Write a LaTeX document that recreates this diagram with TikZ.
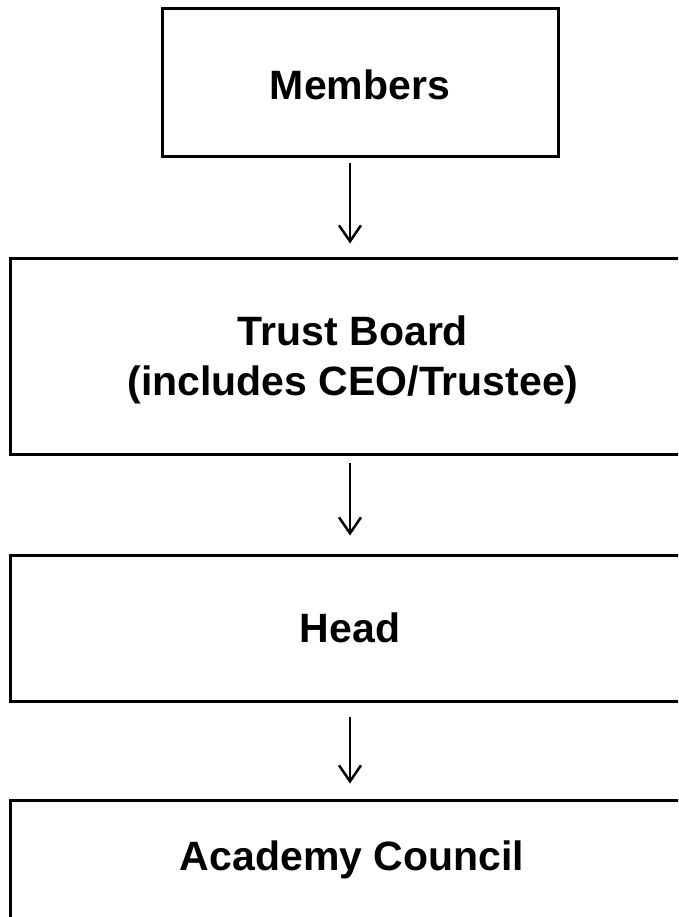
\documentclass[tikz,border=0pt]{standalone}
\usepackage{fontspec}
\setmainfont{Liberation Sans}
\usetikzlibrary{arrows.meta}

\begin{document}
\begin{tikzpicture}[x=1pt,y=1pt,inner sep=1pt,
  box/.style={draw, line width=3pt},
  boxtext/.style={font=\fontsize{41}{50}\selectfont\bfseries, align=center},
  link/.style={line width=2.5pt, -{Straight Barb[length=16pt,width=22pt]}}]
\useasboundingbox (0,0) rectangle (678,-917);
\clip (0,0) rectangle (678,-917);
\node[box, minimum width=396, minimum height=148] (members) at (360,-83) {};
\node[boxtext] (memberslabel) at (360,-85) {Members};
\node[box, minimum width=680, minimum height=196] (board) at (350,-356) {};
\node[boxtext] (boardlabel) at (353,-360) {Trust Board\\(includes CEO/Trustee)};
\node[box, minimum width=680, minimum height=146] (head) at (350,-628) {};
\node[boxtext] (headlabel) at (350,-628) {Head};
\node[box, minimum width=680, minimum height=140] (council) at (350,-870) {};
\node[boxtext] (councillabel) at (352,-860) {Academy Council};
\draw[link, shorten <=5pt, shorten >=13pt] (board.north |- members.south) -- (board.north);
\draw[link, shorten <=7pt, shorten >=18pt] (board.south) -- (head.north);
\draw[link, shorten <=14pt, shorten >=15pt] (head.south) -- (council.north);
\end{tikzpicture}
\end{document}
